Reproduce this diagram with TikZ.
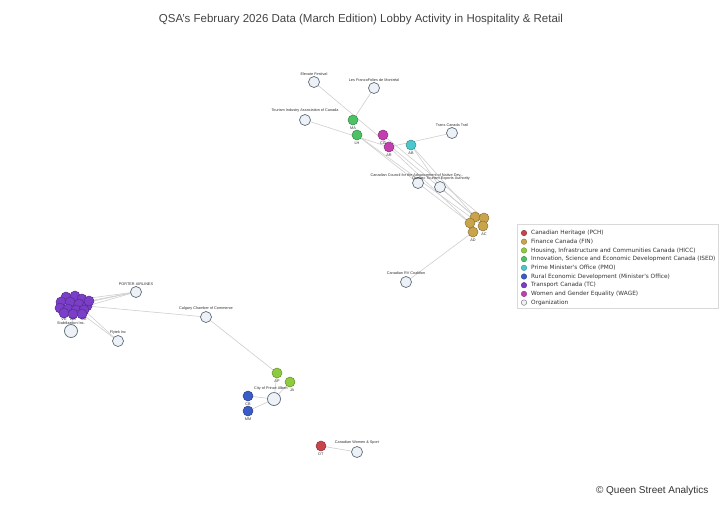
\documentclass[tikz,border=0pt]{standalone}
\usepackage{fontspec}
\setmainfont{Liberation Sans}
\newfontfamily\legfont{DejaVu Sans}
\usetikzlibrary{backgrounds}
\definecolor{edgec}{HTML}{CFCFCF}
\definecolor{orgfill}{HTML}{EEF2F6}
\definecolor{orgline}{HTML}{5B6B7B}
\definecolor{cPCH}{HTML}{C8464B}
\definecolor{cFIN}{HTML}{C9A44C}
\definecolor{cHICC}{HTML}{8FCB3E}
\definecolor{cISED}{HTML}{4CC265}
\definecolor{cPMO}{HTML}{4CC8CC}
\definecolor{cRED}{HTML}{3B5CC6}
\definecolor{cTC}{HTML}{7A3EC8}
\definecolor{cWAGE}{HTML}{C23FB0}
\definecolor{titlec}{HTML}{444444}
\definecolor{labc}{HTML}{333333}
\begin{document}
\begin{tikzpicture}[x=1pt,y=-1pt,
  org/.style={circle,draw=orgline,fill=orgfill,line width=0.7pt,minimum size=11pt,inner sep=0pt},
  bigorg/.style={org,minimum size=13pt},
  off/.style={circle,draw=#1!70!black,fill=#1,line width=0.5pt,minimum size=10pt,inner sep=0pt},
  lab/.style={font=\fontsize{3.8}{4}\selectfont,text=labc,inner sep=0pt},
  edge/.style={draw=edgec,line width=0.6pt},
  legdot/.style={circle,draw=#1!70!black,fill=#1,line width=0.4pt,minimum size=5.5pt,inner sep=0pt},
  legtxt/.style={font=\legfont\fontsize{5.8}{6}\selectfont,text=labc,anchor=west,inner sep=0pt}]
\useasboundingbox (0,0) rectangle (720,504);
\node[font=\fontsize{11.5}{13}\selectfont,text=titlec] (title) at (361,20) {QSA's February 2026 Data (March Edition) Lobby Activity in Hospitality \& Retail};

% top cluster
\node[org] (elev) at (314,82) {};
\node[lab] (lelev) at (314,74) {Elevate Festival};
\node[org] (franco) at (374,88) {};
\node[lab] (lfranco) at (374,80) {Les FrancoFolies de Montréal};
\node[org] (tiac) at (305,120) {};
\node[lab] (ltiac) at (305,111) {Tourism Industry Association of Canada};
\node[off=cISED] (ma) at (353,120) {};
\node[lab] (lma) at (353,128) {MA};
\node[off=cISED] (lh) at (357,135) {};
\node[lab] (llh) at (357,143) {LH};
\node[off=cWAGE] (cg) at (383,135) {};
\node[lab] (lcg) at (383,143) {CG};
\node[off=cWAGE] (ar) at (389,147) {};
\node[lab] (lar) at (389,155) {AR};
\node[off=cPMO] (ab) at (411,145) {};
\node[lab] (lab) at (411,153) {AB};
\node[org] (tct) at (452,133) {};
\node[lab] (ltct) at (452,125) {Trans Canada Trail};
\node[org] (ccand) at (418,183) {};
\node[org] (qtea) at (440,187) {};
\node[lab] (lccand) at (417,175) {Canadian Council for the Advancement of Native Dev...};
\node[lab] (lqtea) at (441,179) {Quebec Tourism Exports Authority};
\node[off=cFIN] (f1) at (475,217) {};
\node[off=cFIN] (f2) at (484,218) {};
\node[off=cFIN] (f3) at (470,223) {};
\node[off=cFIN] (f4) at (483,226) {};
\node[off=cFIN] (f5) at (473,232) {};
\node[lab] (lf4) at (484,234) {AC};
\node[lab] (lf5) at (473,240) {AD};
\node[org] (rv) at (406,282) {};
\node[lab] (lrv) at (406,273) {Canadian RV Coalition};

% left cluster
\foreach \n/\x/\y in {p1/66/297,p2/75/296,p3/82/299,p4/61/302,p5/70/302,p6/79/304,p7/87/306,p8/60/308,p9/68/309,p10/76/310,p11/84/310,p12/64/313,p13/73/314,p14/82/314,p15/89/301}
  {\node[off=cTC] (\n) at (\x,\y) {};}
\node[lab] (lp12) at (64,319) {VE};
\node[lab] (lp13) at (73,319) {AM};
\node[lab] (lp14) at (84,319) {CK};
\node[bigorg] (strat) at (71,331) {};
\node[lab] (lstrat) at (71,323) {Stabilization Inc.};
\node[org] (porter) at (136,292) {};
\node[lab] (lporter) at (136,284) {PORTER AIRLINES};
\node[org] (flyb) at (118,341) {};
\node[lab] (lflyb) at (118,333) {Flytek Inc};
\node[org] (calg) at (206,317) {};
\node[lab] (lcalg) at (206,309) {Calgary Chamber of Commerce};

% bottom cluster
\node[off=cHICC] (ap) at (277,373) {};
\node[lab] (lap) at (277,381) {AP};
\node[off=cHICC] (ja) at (290,382) {};
\node[lab] (lja) at (292,390.5) {JA};
\node[bigorg] (city) at (274,399) {};
\node[lab] (lcity) at (271,389) {City of Prince Albert};
\node[off=cRED] (cb) at (248,396) {};
\node[lab] (lcb) at (248,404) {CB};
\node[off=cRED] (mm) at (248,411) {};
\node[lab] (lmm) at (248,419) {MM};
\node[off=cPCH] (dt) at (321,446) {};
\node[lab] (ldt) at (321,454) {DT};
\node[org] (cws) at (357,452) {};
\node[lab] (lcws) at (357,443) {Canadian Women \& Sport};

\begin{pgfonlayer}{background}
\fill[white] (0,0) rectangle (720,504);
\path[edge] (ma.center) -- (franco.center);
\path[edge] (tiac.center) -- (ar.center);
\path[edge] (elev.center) -- (f1.center);
\path[edge] (lh.center) -- (ccand.center) -- (f3.center);
\path[edge] (lh.center) -- (f4.center);
\path[edge] (cg.center) -- (f2.center);
\path[edge] (ar.center) -- (f3.center);
\path[edge] (tct.center) -- (ar.center);
\path[edge] (ab.center) -- (qtea.center) -- (f1.center);
\path[edge] (ab.center) -- (f4.center);
\path[edge] (f5.center) -- (rv.center);
\path[edge] (p3.center) -- (porter.center);
\path[edge] (p15.center) -- (porter.center);
\path[edge] (p7.center) -- (porter.center);
\path[edge] (p6.center) -- (porter.center);
\path[edge] (p7.center) -- (calg.center);
\path[edge] (p11.center) -- (flyb.center);
\path[edge] (p14.center) -- (flyb.center);
\path[edge] (p13.center) -- (strat.center);
\path[edge] (calg.center) -- (ap.center);
\path[edge] (ap.center) -- (city.center);
\path[edge] (ja.center) -- (city.center);
\path[edge] (cb.center) -- (city.center);
\path[edge] (mm.center) -- (city.center);
\path[edge] (dt.center) -- (cws.center);
\end{pgfonlayer}

% legend
\node[draw=black!15,fill=white,line width=0.5pt,minimum width=201pt,minimum height=84pt,inner sep=0pt,anchor=north west] (legbox) at (517,224) {};
\foreach \i/\c/\t in {0/cPCH/Canadian Heritage (PCH),1/cFIN/Finance Canada (FIN),2/cHICC/{Housing, Infrastructure and Communities Canada (HICC)},3/cISED/{Innovation, Science and Economic Development Canada (ISED)},4/cPMO/Prime Minister's Office (PMO),5/cRED/Rural Economic Development (Minister's Office),6/cTC/Transport Canada (TC),7/cWAGE/Women and Gender Equality (WAGE)}
{
  \node[legdot=\c] (ld\i) at (524,{233+8.7*\i}) {};
  \node[legtxt] (lt\i) at (531,{233+8.7*\i}) {\t};
}
\node[circle,draw=black!50,fill=orgfill,line width=0.5pt,minimum size=5.5pt,inner sep=0pt] (ld8) at (524,{233+8.7*8}) {};
\node[legtxt] (lt8) at (531,{233+8.7*8}) {Organization};

\node[font=\fontsize{10}{12}\selectfont,text=labc,anchor=east] (copy) at (712,491) {© Queen Street Analytics};
\end{tikzpicture}
\end{document}
